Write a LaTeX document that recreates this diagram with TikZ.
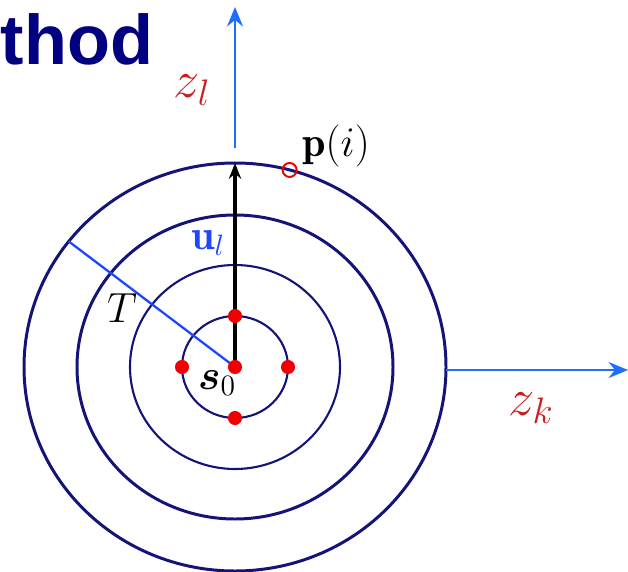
\documentclass[tikz,border=0pt]{standalone}
\usepackage{fix-cm}
\usepackage{bm}
\usepackage{fontspec}
\newfontfamily\titlefont{Liberation Sans}
\usetikzlibrary{arrows.meta, calc}

\definecolor{titlenavy}{RGB}{0,0,128}
\definecolor{ringblue}{RGB}{20,20,120}
\definecolor{axisblue}{RGB}{30,110,255}
\definecolor{labelred}{RGB}{200,30,30}
\definecolor{dotred}{RGB}{240,0,0}
\definecolor{ublue}{RGB}{30,70,255}

\tikzset{
  ring/.style={ringblue, line width=1.2pt},
  outerring/.style={ringblue, line width=1.7pt},
  axis/.style={axisblue, line width=1.7pt, -{Stealth[length=11pt, width=9pt]}},
  reddot/.style={circle, fill=dotred, inner sep=0pt, minimum size=8pt},
  bigmath/.style={font=\fontsize{30}{34}\selectfont},
  midmath/.style={font=\fontsize{24}{28}\selectfont}
}

\begin{document}
\begin{tikzpicture}[>=stealth, thick]

  \useasboundingbox (0, 0) rectangle (12.56, 11.42);
  \clip (0, 0) rectangle (12.56, 11.42);

  % Title (at the left edge)
  \node[anchor=base west, inner sep=0pt, text=titlenavy,
    font=\titlefont\bfseries\fontsize{40}{44}\selectfont] (title) at (0.0, 10.12) {thod};

  % Centre and the rings round it
  \coordinate (s0) at (4.70, 4.08);
  \draw[ring] (s0) ellipse (1.06 and 1.02);
  \draw[ring] (s0) ellipse (2.10 and 2.04);
  \draw[outerring] (s0) ellipse (3.16 and 3.04);
  \draw[outerring] (s0) ellipse (4.22 and 4.08);

  % Points on the outer ring
  \coordinate (top) at ($(s0) + (90:4.22 and 4.08)$);
  \coordinate (rim) at ($(s0) + (142:4.22 and 4.08)$);
  \coordinate (pi) at ($(s0) + (75:4.22 and 4.08)$);

  % Axes
  \coordinate (zlbot) at (4.70, 8.46);
  \coordinate (zltop) at (4.70, 11.28);
  \coordinate (zkbeg) at (8.92, 4.02);
  \coordinate (zkend) at (12.56, 4.02);
  \draw[axis] (zlbot) -- (zltop);
  \draw[axis] (zkbeg) -- (zkend);
  \node[bigmath, text=labelred] (zl) at (3.84, 9.62) {$z_l$};
  \node[bigmath, text=labelred] (zk) at (10.62, 3.26) {$z_k$};

  % Radius T
  \draw[ublue, line width=1.3pt] (s0) -- (rim);
  \node[midmath] (T) at (2.44, 5.26) {$T$};

  % Direction u_l
  \draw[black, line width=1.8pt, -{Stealth[length=9pt, width=7pt]}] (s0) -- (top);
  \node[midmath, text=ublue] (ul) at (4.16, 6.56) {$\mathbf{u}_l$};

  % Point p(i)
  \draw[dotred, line width=1.1pt] (pi) circle (0.14);
  \node[midmath] (plabel) at (6.72, 8.50) {$\mathbf{p}(i)$};

  % Red dots
  \node[reddot] (c0) at (s0) {};
  \foreach \a/\n in {0/d1, 90/d2, 180/d3, 270/d4}
    \node[reddot] (\n) at ($(s0) + (\a:1.06 and 1.02)$) {};
  \node[midmath] (s0label) at (4.34, 3.76) {$\bm{s}_0$};

\end{tikzpicture}
\end{document}
